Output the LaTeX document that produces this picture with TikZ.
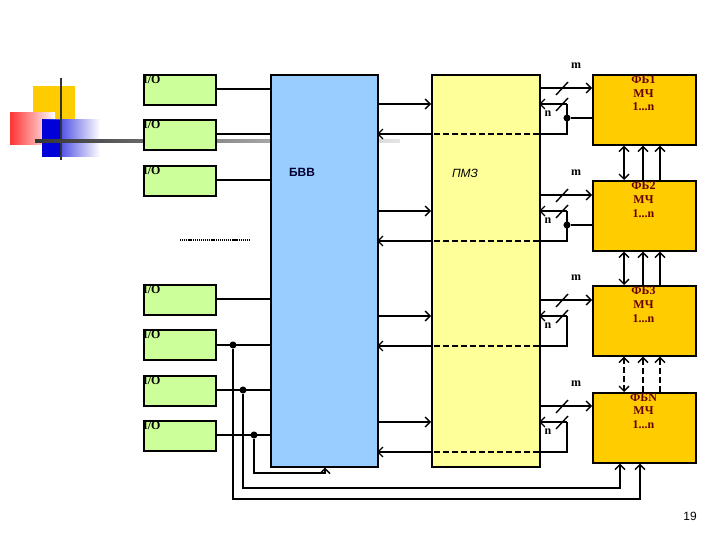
\documentclass[tikz,border=0pt]{standalone}
\usepackage{fontspec}
\setmainfont{Liberation Serif}
\newfontfamily\sansf{Liberation Sans}
\usetikzlibrary{arrows.meta}
\definecolor{iog}{HTML}{CCFF99}
\definecolor{fbo}{HTML}{FFCC00}
\definecolor{bvb}{HTML}{99CCFF}
\definecolor{pmy}{HTML}{FFFF99}
\definecolor{fbt}{HTML}{660000}
\begin{document}
\begin{tikzpicture}[x=1bp,y=-1bp,
 io/.style={draw,line width=1.6pt,fill=iog,minimum width=72bp,minimum height=30bp,inner sep=0,anchor=north west},
 big/.style={draw,line width=1.6pt,anchor=north west,inner sep=0},
 fb/.style={draw,line width=1.6pt,fill=fbo,minimum width=103bp,minimum height=70bp,anchor=north west,inner sep=0},
 ln/.style={line width=1.4pt},
 ds/.style={line width=1.4pt,dash pattern=on 6pt off 3pt},
 ar/.style={line width=1.4pt,-{Straight Barb[length=5pt]}},
 dot/.style={circle,fill,inner sep=2.5pt}]
\useasboundingbox (0,0) rectangle (720,540);
% decoration
\fill[fbo] (33,86) rectangle (75,120);
\shade[left color=red!80,right color=white] (10,113) rectangle (55,145);
\shade[left color=blue!85!black,right color=white] (42,120) rectangle (100,157);
\fill[blue!85!black] (42,120) rectangle (62,157);
\draw[line width=2.5pt,black!80] (61,78) -- (61,160);
\shade[left color=black!80,right color=black!10] (35,140) rectangle (400,142.5);
% I/O
\foreach \n/\y in {a/74,b/119,c/165,d/284,e/329,f/375,g/420}{
 \node[io] (io\n) at (143,\y) {};
 \node[anchor=north west,inner sep=1pt,font=\bfseries\large] at (142,\y) {I/O};}
\node[big,fill=bvb,minimum width=107bp,minimum height=392bp] (bvv) at (270,74) {};
\node[font=\sansf\bfseries\large,text=black!80!blue] (bvvl) at (302,172) {БВВ};
\node[big,fill=pmy,minimum width=108bp,minimum height=392bp] (pmz) at (431,74) {};
\node[font=\sansf\itshape\large] (pmzl) at (465,173) {ПМЗ};
\foreach \n/\y/\l in {1/74/ФБ1,2/180/ФБ2,3/285/ФБ3,4/392/ФБN}{
 \node[fb] (fb\n) at (592,\y) {};
 \node[anchor=north,align=center,font=\bfseries\large,text=fbt,inner sep=0] at (643.5,\y+1) {\l\\МЧ\\1...n};}
% I/O to BVV
\foreach \n/\y in {a/89,b/134,c/180,d/299,e/345,f/390,g/435}{
 \coordinate (l\n) at (215,\y); \coordinate (r\n) at (270,\y);
 \draw[ln] (l\n) -- (r\n);}
\draw[line width=1.6pt,dash pattern=on 1.2pt off 0.9pt] (180,240) -- (251,240);
% groups
\foreach \g/\ym/\dotq in {1/88/1,2/195/1,3/300/0,4/406/0}{
 \pgfmathsetmacro\yn{\ym+16}
 \pgfmathsetmacro\yb{\ym+46}
 \coordinate (s\g) at (377,\yn); \coordinate (t\g) at (431,\yn);
 \draw[ar] (s\g) -- (t\g);
 \coordinate (m\g) at (539,\ym); \coordinate (fm\g) at (592,\ym);
 \draw[ar] (m\g) -- (fm\g);
 \draw[line width=1.4pt] (556,\ym+7) -- (568,\ym-6);
 \node[font=\bfseries\large] at (576,\ym-22) {m};
 \coordinate (c\g) at (567,\yn); \coordinate (cb\g) at (567,\yb);
 \draw[ar] (c\g) -- (539,\yn);
 \draw[line width=1.4pt] (556,\yn+7) -- (568,\yn-6);
 \node[font=\bfseries\large] at (548,\yn+10) {n};
 \draw[ln] (c\g) -- (cb\g) -- (539,\yb);
 \draw[ds] (539,\yb) -- (431,\yb);
 \draw[ar] (431,\yb) -- (377,\yb);
 \ifnum\dotq=1
  \node[dot] (d\g) at (567,\ym+30) {};
  \draw[ln] (d\g) -- (592,\ym+30);
 \fi
}
% FB links
\draw[ln,{Straight Barb[length=5pt]}-{Straight Barb[length=5pt]}] (fb1.south -| 624,0) -- (fb2.north -| 624,0);
\draw[ar] (fb2.north -| 643,0) -- (fb1.south -| 643,0);
\draw[ar] (fb2.north -| 660,0) -- (fb1.south -| 660,0);
\draw[ln,{Straight Barb[length=5pt]}-{Straight Barb[length=5pt]}] (fb2.south -| 624,0) -- (fb3.north -| 624,0);
\draw[ar] (fb3.north -| 643,0) -- (fb2.south -| 643,0);
\draw[ar] (fb3.north -| 660,0) -- (fb2.south -| 660,0);
\draw[ds,{Straight Barb[length=5pt]}-{Straight Barb[length=5pt]}] (fb3.south -| 624,0) -- (fb4.north -| 624,0);
\draw[ds,-{Straight Barb[length=5pt]}] (fb4.north -| 643,0) -- (fb3.south -| 643,0);
\draw[ds,-{Straight Barb[length=5pt]}] (fb4.north -| 660,0) -- (fb3.south -| 660,0);
% bottom feedback
\node[dot] (j1) at (233,345) {};
\node[dot] (j2) at (243,390) {};
\node[dot] (j3) at (254,435) {};
\draw[ar] (j1) -- (233,499) -- (640,499) -- (fb4.south -| 640,0);
\draw[ar] (j2) -- (243,488) -- (620,488) -- (fb4.south -| 620,0);
\draw[ar] (j3) -- (254,473) -- (325,473) -- (bvv.south -| 325,0);
\node[font=\sansf\large] (pg) at (690,516) {19};
\end{tikzpicture}
\end{document}
